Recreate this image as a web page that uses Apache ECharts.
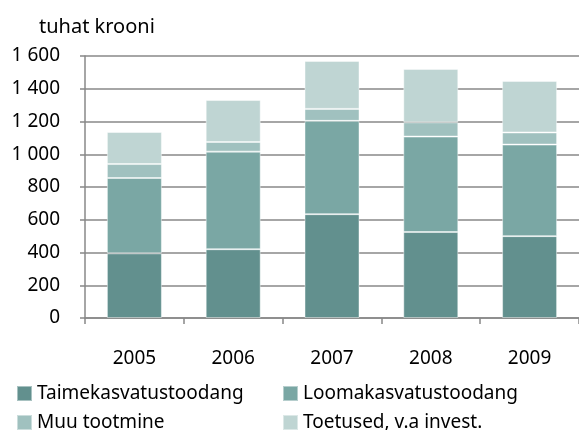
<!DOCTYPE html>
<html>
<head>
<meta charset="utf-8">
<script src="https://cdn.jsdelivr.net/npm/echarts@6/dist/echarts.min.js"></script>
<style>
  html, body { margin: 0; padding: 0; background: #fff; }
  #chart { width: 579px; height: 430px; }
</style>
</head>
<body>
<div id="chart"></div>
<script>
var years = ['2005', '2006', '2007', '2008', '2009'];
var taime = [395, 420, 634, 525, 500];
var looma = [460, 596, 570, 583, 559];
var muu = [85, 59, 73, 87, 74];
var toetused = [196, 256, 293, 326, 315];
var yTicks = [0, 200, 400, 600, 800, 1000, 1200, 1400, 1600];

var names = ['Taimekasvatustoodang', 'Loomakasvatustoodang', 'Muu tootmine', 'Toetused, v.a invest.'];
var colors = ['#62908e', '#7aa7a4', '#a0c1bf', '#bfd5d3'];
var font = 'Noto Sans';

var chart = echarts.init(document.getElementById('chart'));

function bar(name, data, color) {
  return {
    name: name,
    type: 'bar',
    stack: 'total',
    data: data,
    barWidth: 55,
    itemStyle: { color: color, borderColor: 'rgba(255,255,255,0.45)', borderWidth: 1 }
  };
}

// one legend per entry, laid out in a 2x2 block like the original
var legendPos = [[16, 384], [282, 384], [16, 413], [282, 413]];
var legends = names.map(function (n, i) {
  return {
    left: legendPos[i][0], top: legendPos[i][1],
    padding: 0,
    itemWidth: 15, itemHeight: 15,
    icon: 'rect',
    data: [n],
    textStyle: { fontFamily: font, fontSize: 19, color: '#000' }
  };
});

chart.setOption({
  animation: false,
  textStyle: { fontFamily: font },
  title: {
    text: 'tuhat krooni',
    left: 34, top: 12,
    textStyle: { fontFamily: font, fontSize: 20, fontWeight: 'normal', color: '#000' }
  },
  grid: { left: 85, top: 56, width: 498, height: 262 },
  legend: legends,
  xAxis: {
    type: 'category',
    data: years,
    axisLine: { lineStyle: { color: '#888', width: 1.5 } },
    axisTick: { show: true, length: 6, lineStyle: { color: '#888', width: 1.5 } },
    axisLabel: { margin: 31, fontSize: 19, color: '#000', fontFamily: font }
  },
  yAxis: {
    type: 'value',
    min: yTicks[0],
    max: yTicks[yTicks.length - 1],
    interval: 200,
    axisLine: { show: true, lineStyle: { color: '#888', width: 1.5 } },
    axisTick: { show: true, length: 5, lineStyle: { color: '#888', width: 1.5 } },
    splitLine: { lineStyle: { color: '#888', width: 1.5 } },
    axisLabel: {
      margin: 25, fontSize: 19, color: '#000', fontFamily: font,
      formatter: function (v) { return v >= 1000 ? Math.floor(v / 1000) + ' ' + String(v % 1000).padStart(3, '0') : String(v); }
    }
  },
  series: [
    bar(names[0], taime, colors[0]),
    bar(names[1], looma, colors[1]),
    bar(names[2], muu, colors[2]),
    bar(names[3], toetused, colors[3])
  ]
});
</script>
</body>
</html>
